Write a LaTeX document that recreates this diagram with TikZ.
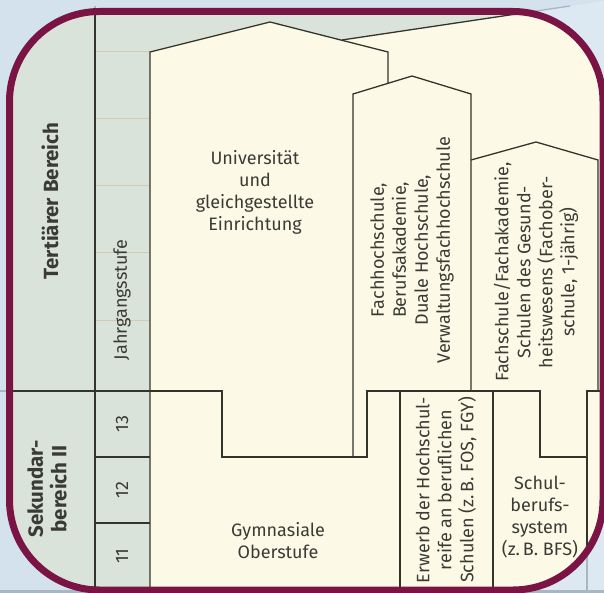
\documentclass[tikz,border=0pt]{standalone}
\usepackage{fontspec}
\setmainfont{Fira Sans}
\usepackage{xcolor}
\usepackage{tikz}
\usetikzlibrary{positioning}
\definecolor{maroon}{HTML}{7A1444}
\definecolor{cream}{HTML}{FCFAE7}
\definecolor{sage}{HTML}{DAE3DA}
\definecolor{veil}{HTML}{D2E2F6}
\definecolor{ink}{HTML}{34352A}
\definecolor{tan}{HTML}{D3CCB4}
\definecolor{txt}{HTML}{3B3B36}

\begin{document}
\begin{tikzpicture}[
  x=1pt,y=-1pt,
  every node/.style={font=\fontsize{18}{22}\selectfont,text=txt,align=center,inner sep=0pt},
  edge/.style={draw=ink,line width=1.3pt,line join=miter},
  tick/.style={draw=tan,line width=1pt},
  area/.style={font=\fontsize{20.5}{23.5}\selectfont\bfseries},
  vert/.style={rotate=90}
]
\useasboundingbox (0,0) rectangle (604,593);
% flaechen
\fill[sage] (0,0) rectangle (604,593);
\fill[cream] (150,593) -- (150,52) -- (270,22) -- (342,40) -- (604,1) -- (604,593) -- cycle;
% jahrgangsraster
\foreach \y in {52,119,186,253,320}
  \draw[tick] (95,\y) -- (150,\y);
\foreach \y in {457,523}
  \draw[edge] (95,\y) -- (150,\y);
% saeulen
\draw[edge] (95,6) -- (95,593);
\draw[edge] (150,593) -- (150,52) -- (270,22) -- (388,52) -- (388,84);
\draw[edge] (342,40) -- (570,6);
\draw[edge] (353,457) -- (353,94) -- (412,76) -- (471,94) -- (471,391);
\draw[edge] (471,160) -- (536,142) -- (598,160) -- (598,391);
\draw[edge] (0,391) -- (222,391) -- (222,457) -- (367,457) -- (367,391)
  -- (540,391) -- (540,457) -- (587,457);
\draw[edge] (587,593) -- (587,391) -- (604,391);
\draw[edge] (400,391) -- (400,593);
\draw[edge] (493,391) -- (493,593);
\draw[ink,line width=3pt] (0,591) -- (604,591);
% rahmen
\fill[veil,fill opacity=.75,even odd rule] (0,0) rectangle (604,593)
  [rounded corners=90pt] (9.5,11.5) rectangle (603,590);
\draw[maroon,line width=7pt,rounded corners=90pt] (9.5,11.5) rectangle (603,590);
% beschriftung
\node[area,vert] (tert) at (50,201) {Tertiärer Bereich};
\node[area,vert] (sek) at (47,489) {Sekundar-\\bereich II};
\node[vert] (jahr) at (122,300) {Jahrgangsstufe};
\foreach \n/\y in {13/424,12/490,11/556}
  \node[vert] (stufe\n) at (122,\y) {\n};
\node (uni) at (255,192) {Universität\\und\\gleichgestellte\\Einrichtung};
\node (gym) at (278,541) {Gymnasiale\\Oberstufe};
\node[vert] (fh) at (412,250) {Fachhochschule,\\Berufsakademie,\\Duale Hochschule,\\Verwaltungsfachhochschule};
\node[vert] (fs) at (536,272) {Fachschule/Fachakademie,\\Schulen des Gesund-\\heitswesens (Fachober-\\schule, 1-jährig)};
\node[vert] (erw) at (446,490) {Erwerb der Hochschul-\\reife an beruflichen\\Schulen (z.\,B. FOS, FGY)};
\node (bfs) at (540,517) {Schul-\\berufs-\\system\\(z.\,B. BFS)};
\end{tikzpicture}
\end{document}
